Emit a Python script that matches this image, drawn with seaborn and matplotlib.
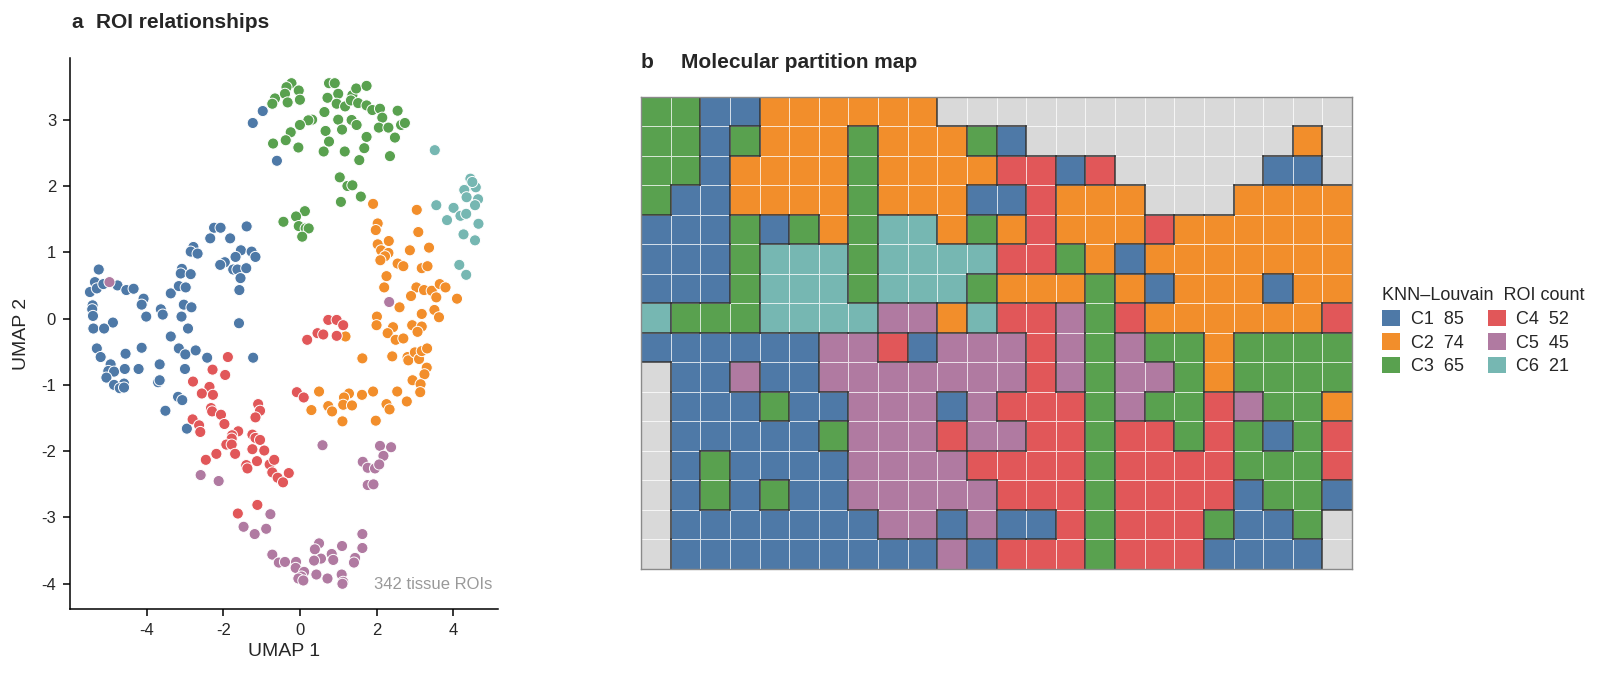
import numpy as np
import pandas as pd
import matplotlib
matplotlib.use("Agg")
import matplotlib.pyplot as plt
import seaborn as sns
from matplotlib.colors import ListedColormap
from matplotlib.collections import LineCollection
from matplotlib.patches import Patch

# ---- data -------------------------------------------------------------
clusters = ["C1", "C2", "C3", "C4", "C5", "C6"]
roi_counts = [85, 74, 65, 52, 45, 21]
cluster_colors = ["#4E79A7", "#F28E2B", "#59A14F", "#E15759", "#B07AA1", "#76B7B2"]
unassigned_color = "#D9D9D9"

# UMAP embedding, one pair of arrays per cluster
c1_x = [-0.97, -1.23, -0.60, -2.24, -2.07, -1.39, -2.34, -1.82, -2.78, -2.85, -2.67, -1.54,
        -1.26, -1.16, -1.68, -1.96, -2.08, -1.74, -1.63, -1.40, -1.55, -1.58, -5.25, -5.35,
        -4.76, -4.53, -4.34, -5.48, -5.30, -5.13, -4.08, -4.13, -4.01, -3.63, -3.58, -3.37,
        -3.16, -2.98, -3.08, -3.11, -2.85, -3.03, -2.83, -3.09, -5.41, -5.42, -5.40, -4.88,
        -5.39, -5.11, -2.92, -1.59, -3.37, -5.30, -5.20, -4.55, -4.13, -3.16, -2.99, -2.72,
        -2.42, -1.22, -4.94, -5.00, -4.85, -5.05, -4.57, -4.21, -3.66, -3.00, -4.85, -4.59,
        -4.70, -4.59, -3.70, -3.66, -3.18, -3.07, -3.51, -2.95]
c1_y = [3.13, 2.95, 2.38, 1.37, 1.37, 1.39, 1.21, 1.21, 1.08, 1.01, 0.98, 1.03,
        1.01, 0.93, 0.93, 0.85, 0.81, 0.74, 0.74, 0.76, 0.61, 0.43, 0.74, 0.55,
        0.50, 0.43, 0.45, 0.40, 0.455, 0.52, 0.30, 0.21, 0.03, 0.14, 0.06, 0.38,
        0.49, 0.47, 0.75, 0.68, 0.67, 0.21, 0.17, 0.03, 0.20, 0.14, 0.04, -0.06,
        -0.15, -0.15, -0.15, -0.07, -0.27, -0.45, -0.58, -0.53, -0.44, -0.45, -0.54, -0.48,
        -0.59, -0.59, -0.69, -0.79, -0.80, -0.89, -0.76, -0.76, -0.69, -0.76, -1.00, -0.98,
        -1.05, -1.04, -0.96, -0.93, -1.18, -1.23, -1.39, -1.66]

c2_x = [1.91, 3.05, 2.03, 1.98, 3.09, 2.32, 2.03, 3.37, 2.87, 2.12, 2.31, 2.22,
        2.10, 2.55, 2.70, 3.18, 3.33, 2.26, 2.20, 3.04, 3.24, 3.44, 3.65, 3.80,
        3.56, 2.90, 4.10, 2.60, 3.18, 3.51, 3.63, 2.01, 2.00, 2.43, 2.93, 3.18,
        2.29, 2.50, 2.70, 3.07, 1.19, 1.63, 2.41, 2.81, 2.83, 3.00, 3.11, 3.18,
        3.32, 3.31, 3.25, 2.94, 3.15, 3.14, 2.79, 2.54, 2.26, 2.34, 1.98, 1.91,
        1.62, 1.28, 1.15, 1.13, 1.36, 0.74, 0.84, 0.50, 0.30, 1.11]
c2_y = [1.73, 1.64, 1.435, 1.335, 1.305, 1.17, 1.12, 1.07, 1.03, 1.03, 0.99, 0.94,
        0.88, 0.83, 0.79, 0.76, 0.79, 0.64, 0.47, 0.47, 0.43, 0.42, 0.52, 0.47,
        0.32, 0.34, 0.30, 0.17, 0.07, 0.13, 0.02, 0.03, -0.10, -0.13, -0.10, -0.12,
        -0.22, -0.32, -0.30, -0.20, -0.27, -0.60, -0.57, -0.58, -0.63, -0.51, -0.61, -0.49,
        -0.45, -0.74, -0.84, -0.93, -0.99, -1.11, -1.25, -1.10, -1.29, -1.37, -1.54, -1.10,
        -1.15, -1.13, -1.19, -1.30, -1.31, -1.32, -1.40, -1.10, -1.38, -1.55]

c3_x = [-0.65, -0.72, -0.70, -0.22, -0.35, -0.39, -0.03, 0.00, -0.32, 0.76, 0.91, 1.00,
        0.72, 0.96, 1.18, 1.37, 1.47, 1.74, 1.33, 1.52, 1.74, 1.89, 2.09, 2.55,
        0.64, 1.00, 1.35, 1.48, 2.15, 2.06, 2.31, 2.64, 2.74, 0.32, 0.22, 0.00,
        -0.24, -0.37, 0.67, 1.10, 1.74, 2.48, -0.04, 0.62, 0.76, 1.17, 1.68, 1.55,
        2.35, 1.04, 1.24, 1.37, 1.59, 1.07, 0.13, -0.10, -0.43, -0.03, 0.15, 0.23, 0.06]
c3_y = [3.32, 3.24, 2.64, 3.55, 3.49, 3.39, 3.44, 3.30, 3.26, 3.55, 3.55, 3.39,
        3.33, 3.24, 3.20, 3.37, 3.47, 3.51, 3.29, 3.25, 3.215, 3.145, 3.165, 3.135,
        3.115, 3.00, 2.995, 2.92, 3.03, 2.88, 2.88, 2.92, 2.95, 3.00, 2.99, 2.92,
        2.81, 2.69, 2.83, 2.85, 2.74, 2.73, 2.58, 2.52, 2.67, 2.52, 2.57, 2.39,
        2.45, 2.13, 2.00, 2.01, 1.84, 1.76, 1.62, 1.54, 1.46, 1.395, 1.36, 1.36, 1.235]

c4_x = [-1.88, -2.28, -1.95, -2.79, -2.36, -2.56, -2.27, -2.32, -2.29, -2.06, -1.09, -1.04,
        -1.16, -2.80, -2.63, -2.60, -1.97, -1.61, -1.77, -1.78, -1.92, -1.78, -1.24, -1.16,
        -1.04, -1.69, -1.24, -0.93, -2.18, -2.455, -1.12, -1.40, -1.37, -0.79, -0.67, -0.72,
        -0.58, -1.11, -1.62, -0.29, -0.44, 0.19, 0.46, 0.61, 0.96, 0.74, 0.96, 1.13,
        -0.08, 0.10]
c4_y = [-0.58, -0.77, -0.85, -0.95, -1.03, -1.13, -1.15, -1.35, -1.40, -1.45, -1.29, -1.39,
        -1.49, -1.52, -1.61, -1.71, -1.59, -1.70, -1.76, -1.81, -1.90, -1.90, -1.75, -1.80,
        -1.83, -2.04, -1.97, -1.99, -2.04, -2.13, -2.15, -2.21, -2.26, -2.20, -2.13, -2.32,
        -2.40, -2.81, -2.94, -2.33, -2.47, -0.32, -0.22, -0.24, -0.26, -0.02, -0.02, -0.10,
        -1.11, -1.19]

c5_x = [-4.97, -2.59, -2.12, -0.77, -1.47, -1.18, -0.88, -0.72, -0.55, 0.59, 2.09, 2.38,
        2.18, 1.64, 1.77, 1.96, 2.07, 1.77, 1.92, 1.63, 1.63, 1.10, 0.50, 0.39,
        0.83, 0.87, 1.44, 1.41, 0.55, 0.37, -0.10, -0.11, -0.39, 0.11, 0.04, 0.43,
        0.72, 1.09, 1.13, -0.04, 0.09, 1.11, 2.33]
c5_y = [0.55, -2.36, -2.45, -2.95, -3.14, -3.25, -3.17, -3.56, -3.68, -1.91, -1.92, -1.94,
        -2.07, -2.16, -2.25, -2.26, -2.20, -2.51, -2.50, -3.25, -3.46, -3.43, -3.39, -3.48,
        -3.55, -3.64, -3.61, -3.68, -3.62, -3.65, -3.67, -3.76, -3.67, -3.82, -3.89, -3.86,
        -3.92, -3.86, -3.97, -3.92, -3.95, -4.00, 0.25]

c6_x = [3.52, 4.45, 4.48, 4.29, 4.59, 4.35, 4.65, 3.56, 4.01, 3.84, 4.19, 4.34,
        4.57, 4.66, 4.27, 4.57, 4.16, 4.34, 4.50]
c6_y = [2.54, 2.11, 2.01, 1.94, 1.98, 1.83, 1.80, 1.71, 1.67, 1.485, 1.55, 1.58,
        1.71, 1.43, 1.27, 1.18, 0.81, 0.66, 2.06]

# partition map: one string per row, "." = unassigned, 1-6 = C1-C6
partition_rows = [
    "3311222222..............",
    "3313222322231.........2.",
    "3312222322224414.....11.",
    "31122223222114222...2222",
    "111313236623242224222222",
    "111366636666443212222222",
    "111366636663222321222122",
    "633366665526445342222224",
    "111111554155545353323333",
    ".11511555555545355323333",
    ".11131155515444353345332",
    ".11111355545544344343134",
    ".13111155554444344443334",
    ".13131155555444344441331",
    ".1111111551511434443113.",
    ".1111111115144434441111.",
]

# ---- style ------------------------------------------------------------
sns.set_style("ticks")
plt.rcParams["font.family"] = ["Liberation Sans", "DejaVu Sans"]
plt.rcParams["axes.unicode_minus"] = False

fig = plt.figure(figsize=(16, 6.82), dpi=100)

# ---- a: UMAP scatter ----------------------------------------------------
xs = [c1_x, c2_x, c3_x, c4_x, c5_x, c6_x]
ys = [c1_y, c2_y, c3_y, c4_y, c5_y, c6_y]
umap = pd.concat(
    [pd.DataFrame({"UMAP 1": x, "UMAP 2": y, "cluster": k}) for x, y, k in zip(xs, ys, clusters)],
    ignore_index=True,
)

ax = fig.add_axes([70 / 1600, 1 - 609 / 682, 428 / 1600, 551 / 682])
sns.scatterplot(
    data=umap, x="UMAP 1", y="UMAP 2", hue="cluster", hue_order=clusters,
    palette=dict(zip(clusters, cluster_colors)), s=64, edgecolor="white",
    linewidth=0.7, legend=False, ax=ax,
)
ax.set_xlim(-6.0, 5.17)
ax.set_ylim(-4.38, 3.93)
ax.set_xticks([-4, -2, 0, 2, 4])
ax.set_yticks([-4, -3, -2, -1, 0, 1, 2, 3])
ax.tick_params(labelsize=12, length=5, width=1.1, color="black", pad=5)
ax.set_xlabel("UMAP 1", fontsize=14)
ax.set_ylabel("UMAP 2", fontsize=14, labelpad=8)
for s in ["left", "bottom"]:
    ax.spines[s].set_linewidth(1.1)
    ax.spines[s].set_color("black")
sns.despine(ax=ax)
ax.text(0.986, 0.036, "342 tissue ROIs", transform=ax.transAxes, ha="right",
        va="baseline", color="#999999", fontsize=12)

fig.text(71 / 1600, 1 - 22 / 682, "a", fontsize=15, fontweight="bold", va="center")
fig.text(96 / 1600, 1 - 22 / 682, "ROI relationships", fontsize=15, fontweight="bold", va="center")

# ---- b: partition map ---------------------------------------------------
grid = np.array([[0 if ch == "." else int(ch) for ch in row] for row in partition_rows])
nr, nc = grid.shape

axb = fig.add_axes([641 / 1600, 1 - 568.7 / 682, 711 / 1600, 472 / 682])
cmap = ListedColormap([unassigned_color] + cluster_colors)
sns.heatmap(grid, cmap=cmap, vmin=-0.5, vmax=6.5, cbar=False, linewidths=0.6,
            linecolor=(1, 1, 1, 0.75), xticklabels=False, yticklabels=False, ax=axb)

# dark outline wherever neighbouring cells belong to different clusters
segs = []
for r in range(nr):
    for c in range(nc):
        if c + 1 < nc and grid[r, c] != grid[r, c + 1]:
            segs.append([(c + 1, r), (c + 1, r + 1)])
        if r + 1 < nr and grid[r, c] != grid[r + 1, c]:
            segs.append([(c, r + 1), (c + 1, r + 1)])
axb.add_collection(LineCollection(segs, colors="#333333", linewidths=1.1, capstyle="projecting"))

for sp in axb.spines.values():
    sp.set_visible(True)
    sp.set_color("#8a8a8a")
    sp.set_linewidth(1.0)

fig.text(641 / 1600, 1 - 63 / 682, "b", fontsize=15, fontweight="bold", va="center")
fig.text(681 / 1600, 1 - 63 / 682, "Molecular partition map", fontsize=15, fontweight="bold", va="center")

handles = [Patch(facecolor=col, edgecolor="none") for col in cluster_colors]
labels = [f"{k}  {n}" for k, n in zip(clusters, roi_counts)]
fig.legend(handles, labels, title="KNN\u2013Louvain  ROI count", ncol=2, loc="upper left",
           bbox_to_anchor=(1366 / 1600, 1 - 271 / 682), frameon=False, fontsize=13,
           title_fontsize=13, alignment="left", handlelength=1.0, handleheight=1.0,
           handletextpad=0.6, columnspacing=1.3, labelspacing=0.3)

fig.savefig("out.png", dpi=100)
